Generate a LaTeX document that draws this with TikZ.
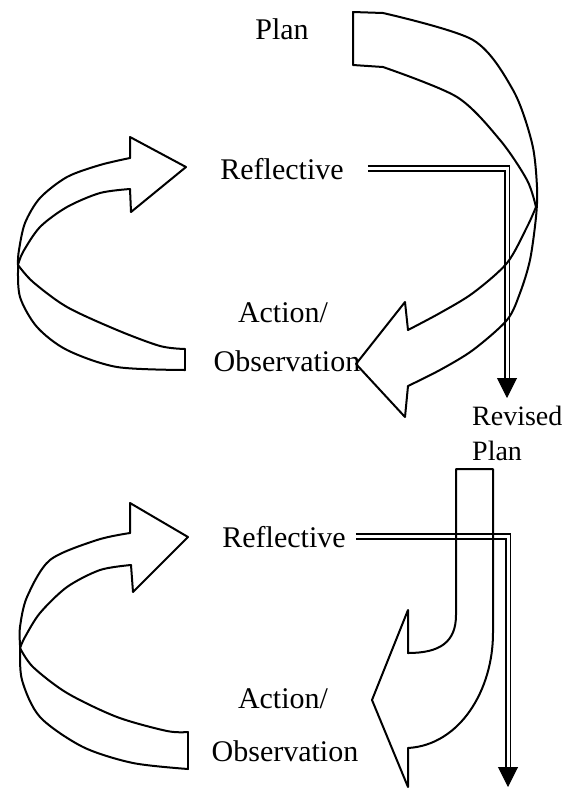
\documentclass[tikz,border=0pt]{standalone}
\usepackage{fontspec}
\setmainfont{Liberation Serif}
\usetikzlibrary{arrows.meta}
\begin{document}
\begin{tikzpicture}[x=1pt,y=-1pt,
  ol/.style={line width=2pt, line join=round, line cap=round},
  lbl/.style={font=\fontsize{30}{36}\selectfont, inner sep=0pt, anchor=base},
  rlbl/.style={font=\fontsize{28}{34}\selectfont, inner sep=0pt, anchor=base west},
  dbl/.style={double, double distance=3pt, line width=1.6pt},
  tipar/.style={-{Triangle[width=20pt,length=20pt]}, line width=1pt}]
\useasboundingbox (0,0) rectangle (570,788);

% labels
\node[lbl] (plan) at (282,39) {Plan};
\node[lbl] (refl1) at (282,179) {Reflective};
\node[lbl] (act1) at (283,322) {Action/};
\node[lbl] (obs1) at (287,371) {Observation};
\node[rlbl] (rev) at (472,425) {Revised};
\node[rlbl] (rplan) at (472,460) {Plan};
\node[lbl] (refl2) at (284,547) {Reflective};
\node[lbl] (act2) at (283,708) {Action/};
\node[lbl] (obs2) at (285,761) {Observation};

% connectors
\coordinate (c1) at (507,378); \coordinate (t1) at (507,398);
\coordinate (c2) at (508,767); \coordinate (t2) at (508,787);
\draw[dbl] ([xshift=24pt]refl1.east) -| (c1);
\draw[tipar] (c1) -- (t1);
\draw[dbl] ([xshift=10pt]refl2.east) -| (c2);
\draw[tipar] (c2) -- (t2);

% Plan arrow (top right)
\draw[ol] (383,13) -- (353,12) -- (353,65) -- (383,67);
\draw[ol] plot[smooth] coordinates {(383,13) (473,40) (513,90) (532,143) (537,187) (536,217) (530,260) (520,293) (507,320) (473,350) (440,370) (408,386)};
\draw[ol] plot[smooth] coordinates {(383,67) (457,97) (500,140) (527,180) (536,207)};
\draw[ol] plot[smooth] coordinates {(536,207) (527,227) (507,263) (473,293) (440,313) (408,330)};
\draw[ol] (408,330) -- (405,302) -- (356,364) -- (405,417) -- (408,386);

% top-left arrow
\draw[ol] (130,158) -- (130,137) -- (186,167) -- (131,212) -- (130,189);
\draw[ol] plot[smooth] coordinates {(130,158) (100,165) (67,177) (40,198) (25,223) (19,250) (18,265) (20,297) (37,327) (67,350) (117,367) (185,370)};
\draw[ol] plot[smooth] coordinates {(130,189) (100,193) (67,207) (40,227) (23,252) (18,265)};
\draw[ol] plot[smooth] coordinates {(18,265) (33,282) (67,307) (117,330) (160,346) (185,349)};
\draw[ol] (185,349) -- (185,370);

% bottom-left arrow
\draw[ol] (130,533) -- (130,503) -- (188,537) -- (133,592) -- (131,565);
\draw[ol] plot[smooth] coordinates {(130,533) (97,540) (50,560) (27,597) (20,627) (20,645) (22,680) (40,717) (83,747) (133,763) (188,769)};
\draw[ol] plot[smooth] coordinates {(131,565) (100,570) (67,587) (40,613) (25,637) (20,648)};
\draw[ol] plot[smooth] coordinates {(20,648) (33,667) (67,693) (117,717) (167,731) (188,732)};
\draw[ol] (188,732) -- (188,769);

% Revised plan arrow
\draw[ol] (408,653) -- (408,610) -- (372,700) -- (408,787) -- (408,748);
\draw[ol] (408,653) .. controls (440,653) and (456,642) .. (456,615) -- (456,469) -- (493,469) -- (493,633) .. controls (493,690) and (460,745) .. (408,748);
\end{tikzpicture}
\end{document}
